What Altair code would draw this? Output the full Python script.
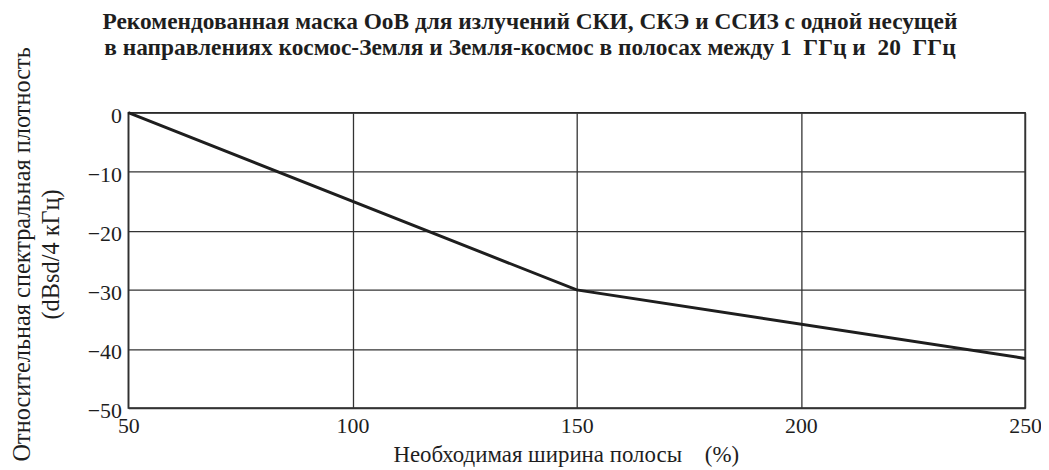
import altair as alt
import pandas as pd

# Data
bandwidth_pct = [50, 150, 250]
rel_density_db = [0, -30, -41.6]
x_ticks = [50, 100, 150, 200, 250]
y_ticks = [0, -10, -20, -30, -40, -50]

title_lines = [
    "Рекомендованная маска OoB для излучений СКИ, СКЭ и ССИЗ с одной несущей",
    "в направлениях космос-Земля и Земля-космос в полосах между 1\u00a0 ГГц и\u00a0 20\u00a0 ГГц",
]
x_title = "Необходимая ширина полосы\u00a0\u00a0\u00a0\u00a0(%)"
y_title = ["Относительная спектральная плотность", "(dBsd/4 кГц)"]

df = pd.DataFrame({"x": bandwidth_pct, "y": rel_density_db})

FONT = "Liberation Serif"
INK = "#1e1e1e"

chart = (
    alt.Chart(df)
    .mark_line(color=INK, strokeWidth=3)
    .encode(
        x=alt.X(
            "x:Q",
            scale=alt.Scale(domain=[50, 250], nice=False, zero=False),
            axis=alt.Axis(
                values=x_ticks,
                title=x_title,
                ticks=False,
                domain=False,
                grid=True,
                gridColor="#333",
                gridWidth=1.3,
                labelFont=FONT,
                labelFontSize=22,
                labelColor=INK,
                labelPadding=8,
                labelFlush=False,
                titleFont=FONT,
                titleFontSize=23,
                titleFontWeight="normal",
                titleColor=INK,
                titleX=440,
                titleY=54,
                titleBaseline="alphabetic",
            ),
        ),
        y=alt.Y(
            "y:Q",
            scale=alt.Scale(domain=[-50, 0], nice=False, zero=False),
            axis=alt.Axis(
                values=y_ticks,
                title=y_title,
                ticks=False,
                domain=False,
                grid=True,
                gridColor="#333",
                gridWidth=1.3,
                labelFont=FONT,
                labelFontSize=22,
                labelColor=INK,
                labelPadding=7,
                labelOffset=3,
                labelFlush=False,
                titleFont=FONT,
                titleFontSize=24.5,
                titleFontWeight="normal",
                titleColor=INK,
                titleX=-99,
                titleY=142,
                titleAlign="center",
                titleBaseline="alphabetic",
                titleLineHeight=29,
            ),
        ),
    )
    .properties(
        width=902,
        height=297,
        autosize="none",
        padding={"left": 121, "top": 104, "right": 16, "bottom": 60},
        title=alt.TitleParams(
            text=title_lines,
            font=FONT,
            fontSize=23.5,
            fontWeight="bold",
            color=INK,
            anchor="middle",
            frame="group",
            dx=-47,
            dy=43,
            offset=30,
            lineHeight=26,
        ),
    )
    .configure_view(stroke="#222", strokeWidth=1.5)
)

chart.save("out.html", embed_options={"renderer": "svg", "actions": False})
